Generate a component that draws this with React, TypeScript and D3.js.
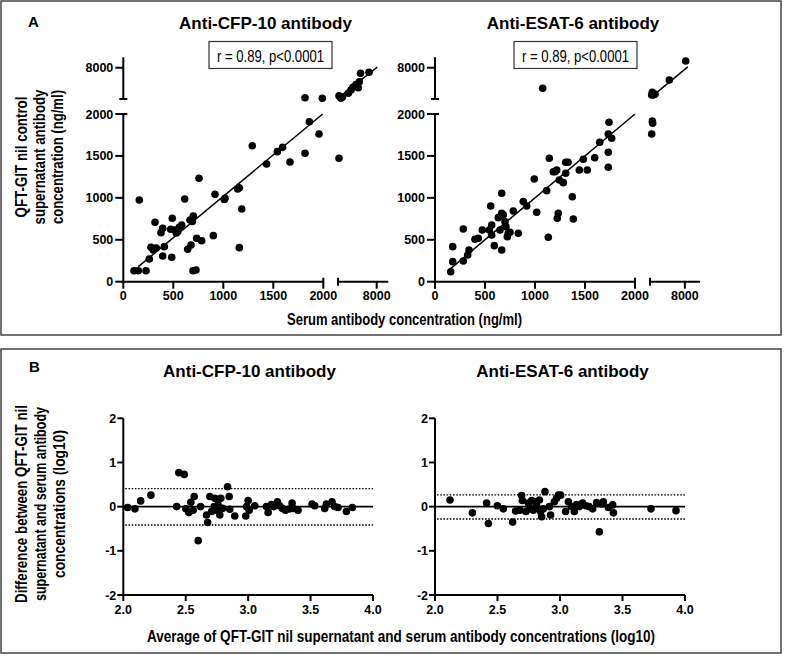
import React from "react";
import * as d3 from "d3";

// ---------- DATA ----------
// Panel A: serum (x) vs QFT-GIT nil supernatant (y) antibody concentration (ng/ml)
const cfpScatterX = [107,150,227,160,260,277,300,330,317,394,410,377,394,484,490,474,517,544,560,584,530,614,644,677,667,700,690,697,727,734,784,757,900,917,1010,1017,1144,1160,1184,1160,1290,1433,1540,1593,1667,1817,1860,1957,1817,1990,2155,2155,2310,2465,2670,3600,4015,4325,4790,5150,5300,5490,6805];
const cfpScatterY = [131,131,131,975,271,410,378,402,709,307,418,585,637,291,756,625,617,597,649,676,580,987,386,438,736,784,718,131,140,518,489,1233,549,1042,980,995,1106,1121,867,406,1622,1404,1551,1602,1427,1531,1908,1761,2249,2134,1472,2630,2440,2134,2330,3093,3725,4237,4780,4150,5316,6927,7119];
const esatScatterX = [157,177,177,283,283,327,340,400,433,473,543,557,567,567,593,633,667,667,667,683,650,700,723,710,733,750,783,833,883,917,993,1017,1117,1133,1143,1183,1200,1217,1243,1283,1307,1307,1330,1373,1233,1223,1383,1443,1483,1523,1597,1647,1733,1733,1733,1740,1767,1077,2290,2400,2460,2400,2570,2860,2290,5320,8140];
const esatScatterY = [119,239,418,247,629,318,378,506,518,617,617,903,676,557,430,764,1054,378,816,797,617,716,537,656,580,590,843,577,955,903,1225,828,1086,530,1472,1312,1312,1333,1213,1181,1293,1424,1424,1014,816,756,748,1333,1460,1333,1479,1663,1544,1365,1762,1902,1711,4051,1762,1917,1890,3284,2767,2900,2767,5642,9285];
// regression line end points (lower segment, upper segment)
const cfpFitX = [150, 1994, 2300, 8100];
const cfpFitY = [179, 2000, 2450, 8100];
const esatFitX = [150, 2000, 2300, 8500];
const esatFitY = [150, 2000, 2450, 8150];
const scatterLowTicks = [0, 500, 1000, 1500, 2000];
const scatterHighTicks = [8000];

// Panel B: Bland-Altman (log10)
const cfpBAx = [2.035,2.093,2.139,2.221,2.427,2.445,2.488,2.501,2.525,2.541,2.56,2.568,2.6,2.619,2.667,2.675,2.693,2.707,2.728,2.733,2.747,2.76,2.773,2.781,2.795,2.835,2.848,2.853,2.893,2.981,2.987,3.0,3.008,3.053,3.147,3.16,3.187,3.205,3.235,3.253,3.275,3.299,3.333,3.352,3.36,3.4,3.512,3.533,3.613,3.627,3.672,3.693,3.72,3.787,3.835];
const cfpBAy = [-0.02,-0.05,0.13,0.26,0,0.77,0.73,-0.05,-0.13,0.1,-0.08,0.23,-0.77,0,-0.19,-0.36,0.23,-0.11,0,0.19,-0.08,0.04,-0.19,0.19,-0.04,0.45,0.23,-0.06,-0.21,-0.21,0,0.14,-0.08,0.02,0,-0.13,0.05,0,0.11,0.02,-0.04,-0.08,-0.05,0.08,-0.04,-0.08,0.06,0.02,-0.04,0.06,0.11,0,-0.02,-0.11,-0.02];
const esatBAx = [2.12,2.299,2.413,2.427,2.499,2.547,2.621,2.645,2.68,2.693,2.699,2.728,2.747,2.76,2.773,2.787,2.8,2.813,2.835,2.845,2.853,2.867,2.88,2.915,2.925,2.955,2.973,2.987,3.005,3.045,3.067,3.093,3.115,3.133,3.155,3.181,3.208,3.232,3.261,3.293,3.315,3.333,3.347,3.387,3.421,3.427,3.728,3.928];
const esatBAy = [0.15,-0.14,0.08,-0.38,0.02,-0.05,-0.35,-0.1,-0.08,0.25,0.14,-0.11,0.08,-0.04,0.14,-0.08,0.11,0.02,0.15,-0.11,-0.23,-0.05,0.34,0,-0.19,0.11,0.19,0.26,0.26,-0.11,0.11,0,-0.11,0.05,0,0.08,0.02,0,-0.05,0.09,-0.57,0.06,0.11,-0.02,0.04,-0.14,-0.05,-0.09];
const cfpLimits = [0.41, -0.415];
const esatLimits = [0.265, -0.28];
const baXTicks = [2.0, 2.5, 3.0, 3.5, 4.0];
const baYTicks = [-2, -1, 0, 1, 2];

const FONT = "'Liberation Sans', Arial, Helvetica, sans-serif";

type Broken = (v: number) => number;
function broken(lo: d3.ScaleLinear<number, number>, hi: d3.ScaleLinear<number, number>, cut: number): Broken {
  return (v: number) => (v <= cut ? lo(v) : hi(v));
}

function ScatterPanel(props: {
  axisX: number; xLowRange: [number, number]; xHighRange: [number, number]; xHighMax: number;
  xs: number[]; ys: number[]; fitX: number[]; fitY: number[];
}) {
  const { axisX, xLowRange, xHighRange, xHighMax, xs, ys, fitX, fitY } = props;
  const xLo = d3.scaleLinear().domain([0, 2000]).range(xLowRange);
  const xHi = d3.scaleLinear().domain([2000, xHighMax]).range(xHighRange);
  const yLo = d3.scaleLinear().domain([0, 2000]).range([281.7, 114]);
  const yHi = d3.scaleLinear().domain([2000, 10000]).range([99, 57.3]);
  const x = broken(xLo, xHi, 2000);
  const y = broken(yLo, yHi, 2000);
  const axisY = yLo(0);
  const sw = 2;
  return (
    <g>
      {/* y axis lower */}
      <line x1={axisX} x2={axisX} y1={axisY + 1} y2={yLo(2000)} stroke="#000" strokeWidth={sw} />
      <line x1={axisX - 1} x2={axisX + 4} y1={yLo(2000)} y2={yLo(2000)} stroke="#000" strokeWidth={sw} />
      {/* y axis upper */}
      <line x1={axisX} x2={axisX} y1={yHi(2000)} y2={yHi(10000)} stroke="#000" strokeWidth={sw} />
      <line x1={axisX - 4} x2={axisX + 4} y1={yHi(2000)} y2={yHi(2000)} stroke="#000" strokeWidth={sw} />
      {scatterLowTicks.map((t) => (
        <g key={"yl" + t}>
          <line x1={axisX - 8} x2={axisX} y1={yLo(t)} y2={yLo(t)} stroke="#000" strokeWidth={sw} />
          <text x={axisX - 10} y={yLo(t) + 4.5} textAnchor="end" fontSize={12.5} fontWeight="bold" fontFamily={FONT}>{t}</text>
        </g>
      ))}
      {scatterHighTicks.map((t) => (
        <g key={"yh" + t}>
          <line x1={axisX - 8} x2={axisX} y1={yHi(t)} y2={yHi(t)} stroke="#000" strokeWidth={sw} />
          <text x={axisX - 10} y={yHi(t) + 4.5} textAnchor="end" fontSize={12.5} fontWeight="bold" fontFamily={FONT}>{t}</text>
        </g>
      ))}
      {/* x axis lower */}
      <line x1={axisX - 1} x2={xLo(2000)} y1={axisY} y2={axisY} stroke="#000" strokeWidth={sw} />
      <line x1={xLo(2000)} x2={xLo(2000)} y1={axisY - 4} y2={axisY + 1} stroke="#000" strokeWidth={sw} />
      {/* x axis upper */}
      <line x1={xHi(2000)} x2={xHighRange[1]} y1={axisY} y2={axisY} stroke="#000" strokeWidth={sw} />
      <line x1={xHi(2000)} x2={xHi(2000)} y1={axisY - 4} y2={axisY + 4} stroke="#000" strokeWidth={sw} />
      {scatterLowTicks.map((t) => (
        <g key={"xl" + t}>
          <line x1={xLo(t)} x2={xLo(t)} y1={axisY} y2={axisY + 7} stroke="#000" strokeWidth={sw} />
          <text x={xLo(t)} y={300} textAnchor="middle" fontSize={12.5} fontWeight="bold" fontFamily={FONT}>{t}</text>
        </g>
      ))}
      {scatterHighTicks.map((t) => (
        <g key={"xh" + t}>
          <line x1={xHi(t)} x2={xHi(t)} y1={axisY} y2={axisY + 7} stroke="#000" strokeWidth={sw} />
          <text x={xHi(t)} y={300} textAnchor="middle" fontSize={12.5} fontWeight="bold" fontFamily={FONT}>{t}</text>
        </g>
      ))}
      {/* regression lines */}
      <line x1={x(fitX[0])} y1={y(fitY[0])} x2={x(fitX[1])} y2={y(fitY[1])} stroke="#000" strokeWidth={1.5} />
      <line x1={x(fitX[2])} y1={y(fitY[2])} x2={x(fitX[3])} y2={y(fitY[3])} stroke="#000" strokeWidth={1.5} />
      {xs.map((v, i) => (
        <circle key={i} cx={x(v)} cy={y(ys[i])} r={3.8} fill="#000" />
      ))}
    </g>
  );
}

function BAPanel(props: { xRange: [number, number]; xs: number[]; ys: number[]; limits: number[] }) {
  const { xRange, xs, ys, limits } = props;
  const x = d3.scaleLinear().domain([2, 4]).range(xRange);
  const y = d3.scaleLinear().domain([-2, 2]).range([595, 418.3]);
  const ax = xRange[0];
  const sw = 2;
  return (
    <g>
      <line x1={ax} x2={ax} y1={y(-2) + 1} y2={y(2)} stroke="#000" strokeWidth={sw} />
      <line x1={ax - 1} x2={xRange[1]} y1={y(-2)} y2={y(-2)} stroke="#000" strokeWidth={sw} />
      {baYTicks.map((t) => (
        <g key={"y" + t}>
          <line x1={ax - 6} x2={ax} y1={y(t)} y2={y(t)} stroke="#000" strokeWidth={sw} />
          <text x={ax - 7} y={y(t) + 4.5} textAnchor="end" fontSize={12.5} fontWeight="bold" fontFamily={FONT}>{t}</text>
        </g>
      ))}
      {baXTicks.map((t) => (
        <g key={"x" + t}>
          <line x1={x(t)} x2={x(t)} y1={y(-2)} y2={y(-2) + 6} stroke="#000" strokeWidth={sw} />
          <text x={x(t)} y={614} textAnchor="middle" fontSize={12.5} fontWeight="bold" fontFamily={FONT}>{d3.format(".1f")(t)}</text>
        </g>
      ))}
      <line x1={ax} x2={xRange[1]} y1={y(0)} y2={y(0)} stroke="#000" strokeWidth={1.6} />
      {limits.map((l, i) => (
        <line key={"l" + i} x1={ax + 2} x2={xRange[1]} y1={y(l)} y2={y(l)} stroke="#000" strokeWidth={1.3} strokeDasharray="1.6,1.6" />
      ))}
      {xs.map((v, i) => (
        <circle key={i} cx={x(v)} cy={y(ys[i])} r={3.8} fill="#000" />
      ))}
    </g>
  );
}

function VLabel(props: { lines: string[]; lengths: number[]; cy: number; xs: number[] }) {
  const { lines, lengths, cy, xs } = props;
  return (
    <g>
      {lines.map((l, i) => (
        <text key={i} transform={`translate(${xs[i]},${cy}) rotate(-90)`} textAnchor="middle" fontSize={17} fontWeight="bold" fontFamily={FONT} textLength={lengths[i]} lengthAdjust="spacingAndGlyphs">{l}</text>
      ))}
    </g>
  );
}

export default function App() {
  return (
    <svg width={785} height={656} style={{ position: "absolute", left: 0, top: 0, background: "#fff" }}>
      <rect x={0} y={0} width={785} height={656} fill="#fff" />
      {/* panel frames */}
      <rect x={1} y={1} width={780} height={334} fill="none" stroke="#444" strokeWidth={1.5} />
      <rect x={1} y={349} width={780} height={304} fill="none" stroke="#444" strokeWidth={1.5} />

      {/* Panel A */}
      <text x={28} y={27} fontSize={15} fontWeight="bold" fontFamily={FONT}>A</text>
      <text x={265.5} y={29} textAnchor="middle" fontSize={17} fontWeight="bold" fontFamily={FONT}>Anti-CFP-10 antibody</text>
      <text x={573} y={29} textAnchor="middle" fontSize={17} fontWeight="bold" fontFamily={FONT}>Anti-ESAT-6 antibody</text>
      <rect x={209} y={41.5} width={123} height={27} fill="#fff" stroke="#333" strokeWidth={1.2} />
      <text x={270.5} y={61.5} textAnchor="middle" fontSize={16} fontFamily={FONT} textLength={107} lengthAdjust="spacingAndGlyphs">r = 0.89, p&lt;0.0001</text>
      <rect x={514} y={41.5} width={123} height={27} fill="#fff" stroke="#333" strokeWidth={1.2} />
      <text x={575.5} y={61.5} textAnchor="middle" fontSize={16} fontFamily={FONT} textLength={107} lengthAdjust="spacingAndGlyphs">r = 0.89, p&lt;0.0001</text>
      <VLabel lines={["QFT-GIT nil control", "supernatant antibody", "concentration (ng/ml)"]} lengths={[121, 135, 134]} cy={157} xs={[27, 45, 63]} />
      <text x={404.5} y={325} textAnchor="middle" fontSize={17} fontWeight="bold" fontFamily={FONT} textLength={235} lengthAdjust="spacingAndGlyphs">Serum antibody concentration (ng/ml)</text>
      <ScatterPanel axisX={123.3} xLowRange={[123.3, 323.3]} xHighRange={[338, 388.3]} xHighMax={9800} xs={cfpScatterX} ys={cfpScatterY} fitX={cfpFitX} fitY={cfpFitY} />
      <ScatterPanel axisX={435} xLowRange={[435, 635]} xHighRange={[650, 700]} xHighMax={10600} xs={esatScatterX} ys={esatScatterY} fitX={esatFitX} fitY={esatFitY} />

      {/* Panel B */}
      <text x={29} y={372} fontSize={15} fontWeight="bold" fontFamily={FONT}>B</text>
      <text x={249.5} y={377} textAnchor="middle" fontSize={17} fontWeight="bold" fontFamily={FONT}>Anti-CFP-10 antibody</text>
      <text x={562.5} y={377} textAnchor="middle" fontSize={17} fontWeight="bold" fontFamily={FONT}>Anti-ESAT-6 antibody</text>
      <VLabel lines={["Difference between QFT-GIT nil", "supernatant and serum antibody", "concentrations (log10)"]} lengths={[198, 194, 148]} cy={504} xs={[27, 46, 65]} />
      <text x={401} y={642} textAnchor="middle" fontSize={17} fontWeight="bold" fontFamily={FONT} textLength={508} lengthAdjust="spacingAndGlyphs">Average of QFT-GIT nil supernatant and serum antibody concentrations (log10)</text>
      <BAPanel xRange={[123.3, 373]} xs={cfpBAx} ys={cfpBAy} limits={cfpLimits} />
      <BAPanel xRange={[435, 685]} xs={esatBAx} ys={esatBAy} limits={esatLimits} />
    </svg>
  );
}
